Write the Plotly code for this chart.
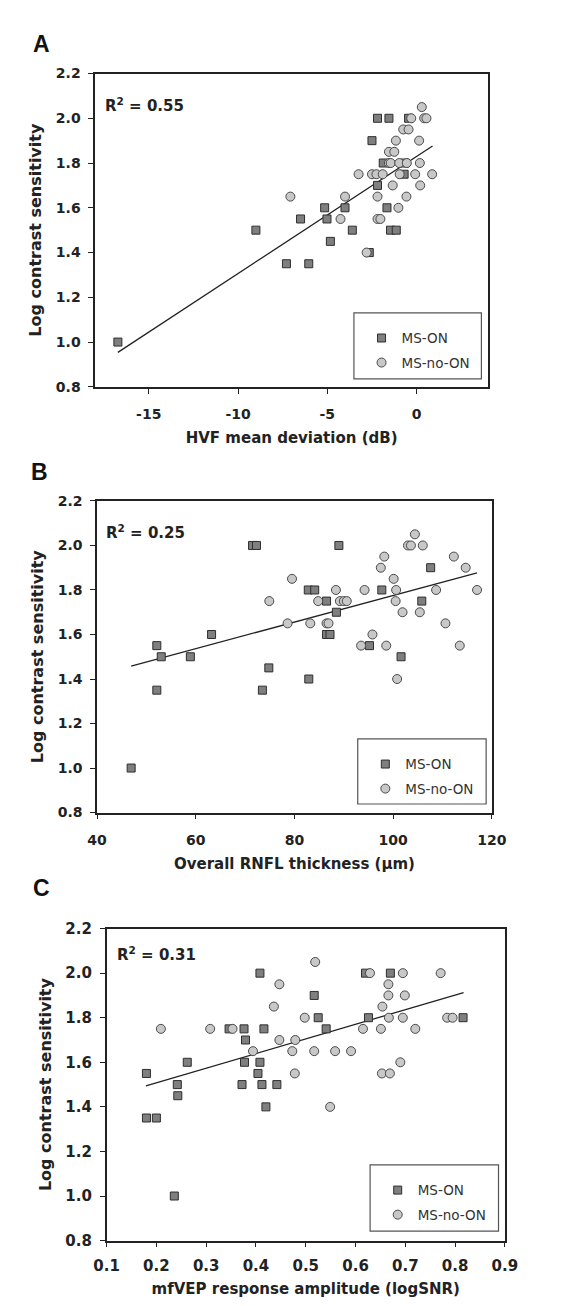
import plotly.graph_objects as go

W, H = 574, 1306

# ---------------- Data ----------------
# Panel A: HVF mean deviation (dB) vs log contrast sensitivity
a_on_x = [-16.73, -9.0, -7.29, -6.5, -6.04, -5.15, -5.02, -4.83, -4.01, -3.6, -2.65,
          -2.5, -2.19, -2.19, -1.87, -1.66, -1.55, -1.46, -1.14, -0.7, -0.65, -0.45]
a_on_y = [1.0, 1.5, 1.35, 1.55, 1.35, 1.6, 1.55, 1.45, 1.6, 1.5, 1.4,
          1.9, 2.0, 1.7, 1.8, 1.6, 2.0, 1.5, 1.5, 1.75, 1.8, 2.0]
a_no_x = [0.29, -0.3, 0.42, 0.55, -0.75, -0.45, -1.16, 0.14, -1.55, -1.25,
          -1.55, -1.45, -0.97, -0.55, 0.18, -3.25, -2.5, -2.25, -1.9, -0.95, -0.08, 0.87,
          -1.34, 0.2, -7.07, -4.01, -2.19, -0.57, -1.02, -4.26, -2.19, -2.03, -2.8]
a_no_y = [2.05, 2.0, 2.0, 2.0, 1.95, 1.95, 1.9, 1.9, 1.85, 1.85,
          1.8, 1.8, 1.8, 1.8, 1.8, 1.75, 1.75, 1.75, 1.75, 1.75, 1.75, 1.75,
          1.7, 1.7, 1.65, 1.65, 1.65, 1.65, 1.6, 1.55, 1.55, 1.55, 1.4]
a_fit_x = [-16.73, 0.89]
a_fit_y = [0.954, 1.876]
a_xtick_vals = [-15, -10, -5, 0]
a_xtick_text = ["-15", "-10", "-5", "0"]

# Panel B: overall RNFL thickness (um) vs log contrast sensitivity
b_on_x = [46.9, 52.1, 52.1, 53.0, 58.9, 63.2, 71.5, 72.3, 73.5, 74.8, 82.8, 84.1, 82.9,
          86.5, 86.5, 87.2, 88.5, 89.0, 95.2, 97.7, 101.6, 105.8, 107.6]
b_on_y = [1.0, 1.55, 1.35, 1.5, 1.5, 1.6, 2.0, 2.0, 1.35, 1.45, 1.8, 1.8, 1.4,
          1.75, 1.6, 1.6, 1.7, 2.0, 1.55, 1.8, 1.5, 1.75, 1.9]
b_no_x = [104.4, 103.0, 103.6, 106.0, 98.2, 112.3, 97.5, 114.7, 79.5, 100.1,
          88.4, 94.2, 100.6, 108.7, 117.0, 74.9, 84.8, 89.2, 90.0, 90.6, 100.5,
          101.9, 105.4, 78.6, 83.2, 86.5, 86.9, 110.6, 95.8, 93.5, 98.6, 113.5, 100.8]
b_no_y = [2.05, 2.0, 2.0, 2.0, 1.95, 1.95, 1.9, 1.9, 1.85, 1.85,
          1.8, 1.8, 1.8, 1.8, 1.8, 1.75, 1.75, 1.75, 1.75, 1.75, 1.75,
          1.7, 1.7, 1.65, 1.65, 1.65, 1.65, 1.65, 1.6, 1.55, 1.55, 1.55, 1.4]
b_fit_x = [46.9, 117.0]
b_fit_y = [1.458, 1.877]
b_xtick_vals = [40, 60, 80, 100, 120]
b_xtick_text = ["40", "60", "80", "100", "120"]

# Panel C: mfVEP response amplitude (logSNR) vs log contrast sensitivity
c_on_x = [0.236, 0.180, 0.200, 0.420, 0.243, 0.242, 0.372, 0.412, 0.442, 0.180, 0.404,
          0.262, 0.377, 0.408, 0.379, 0.346, 0.376, 0.416, 0.541, 0.525, 0.626, 0.816,
          0.517, 0.408, 0.620, 0.670]
c_on_y = [1.0, 1.35, 1.35, 1.4, 1.45, 1.5, 1.5, 1.5, 1.5, 1.55, 1.55,
          1.6, 1.6, 1.6, 1.7, 1.75, 1.75, 1.75, 1.75, 1.8, 1.8, 1.8,
          1.9, 2.0, 2.0, 2.0]
c_no_x = [0.519, 0.629, 0.695, 0.771, 0.447, 0.666, 0.666, 0.699, 0.436, 0.654,
          0.498, 0.667, 0.695, 0.784, 0.795, 0.209, 0.308, 0.353, 0.615, 0.651, 0.720,
          0.447, 0.479, 0.394, 0.473, 0.517, 0.559, 0.591, 0.690, 0.478, 0.653, 0.669, 0.549]
c_no_y = [2.05, 2.0, 2.0, 2.0, 1.95, 1.95, 1.9, 1.9, 1.85, 1.85,
          1.8, 1.8, 1.8, 1.8, 1.8, 1.75, 1.75, 1.75, 1.75, 1.75, 1.75,
          1.7, 1.7, 1.65, 1.65, 1.65, 1.65, 1.65, 1.6, 1.55, 1.55, 1.55, 1.4]
c_fit_x = [0.179, 0.817]
c_fit_y = [1.494, 1.913]
c_xtick_vals = [0.1, 0.2, 0.3, 0.4, 0.5, 0.6, 0.7, 0.8, 0.9]
c_xtick_text = ["0.1", "0.2", "0.3", "0.4", "0.5", "0.6", "0.7", "0.8", "0.9"]

y_tick_vals = [0.8, 1.0, 1.2, 1.4, 1.6, 1.8, 2.0, 2.2]
y_tick_text = ["0.8", "1.0", "1.2", "1.4", "1.6", "1.8", "2.0", "2.2"]

panel_letters = ["A", "B", "C"]
r2_labels = ["0.55", "0.25", "0.31"]
x_titles = ["HVF mean deviation (dB)", "Overall RNFL thickness (\u00b5m)",
            "mfVEP response amplitude (logSNR)"]
y_title = "Log contrast sensitivity"
series_names = ["MS-ON", "MS-no-ON"]

# ---------------- Layout geometry (pixels) ----------------
def px_x(p):
    return p / W

def px_y(p):
    return 1 - p / H

panels = [
    dict(x0=78, x1=491, y0=57.3, y1=375, xr=[-18, 4], tickfont=14, lstand=9, tstand=11,
         legbox=(350, 300, 484, 367), r2=(86, 77), letter=(10, 12)),
    dict(x0=80, x1=495, y0=490.7, y1=806.7, xr=[40, 120], tickfont=14, lstand=9, tstand=11,
         legbox=(354, 732, 489, 798), r2=(87, 510), letter=(8, 446)),
    dict(x0=90, x1=508.7, y0=924.3, y1=1240.7, xr=[0.1, 0.9], tickfont=15, lstand=6, tstand=9,
         legbox=(367, 1164, 502, 1231), r2=(99, 938), letter=(10, 868)),
]
data = [
    (a_on_x, a_on_y, a_no_x, a_no_y, a_fit_x, a_fit_y, a_xtick_vals, a_xtick_text),
    (b_on_x, b_on_y, b_no_x, b_no_y, b_fit_x, b_fit_y, b_xtick_vals, b_xtick_text),
    (c_on_x, c_on_y, c_no_x, c_no_y, c_fit_x, c_fit_y, c_xtick_vals, c_xtick_text),
]

FONT_B = "DejaVu Sans"
fig = go.Figure()
shapes = []
annotations = []
layout = dict(width=W, height=H, margin=dict(l=0, r=0, t=0, b=0),
              paper_bgcolor="white", plot_bgcolor="white", showlegend=True)

for i, (p, d) in enumerate(zip(panels, data)):
    n = "" if i == 0 else str(i + 1)
    xa, ya = "x" + n, "y" + n
    leg = "legend" + n
    on_x, on_y, no_x, no_y, fx, fy, xtv, xtt = d
    fig.add_trace(go.Scatter(x=fx, y=fy, xaxis=xa, yaxis=ya, mode="lines",
                             line=dict(color="#222222", width=1.3), showlegend=False,
                             hoverinfo="skip"))
    fig.add_trace(go.Scatter(x=on_x, y=on_y, xaxis=xa, yaxis=ya, mode="markers",
                             name=series_names[0], legend=leg, legendgroup="on" + n,
                             marker=dict(symbol="square", size=8, color="#7f7f7f",
                                         line=dict(color="#2e2e2e", width=1))))
    fig.add_trace(go.Scatter(x=no_x, y=no_y, xaxis=xa, yaxis=ya, mode="markers",
                             name=series_names[1], legend=leg, legendgroup="no" + n,
                             marker=dict(symbol="circle", size=9, color="#c8c8c8",
                                         line=dict(color="#4a4a4a", width=1))))
    axis_common = dict(showgrid=False, zeroline=False, showline=True, mirror=True,
                       linecolor="#222222", linewidth=1.5, ticks="outside", ticklen=5,
                       tickwidth=1.3, tickcolor="#222222")
    layout["xaxis" + n] = dict(axis_common, domain=[px_x(p["x0"]), px_x(p["x1"])],
                               anchor=ya, range=p["xr"], tickmode="array",
                               tickvals=xtv, ticktext=xtt,
                               ticklabelstandoff=p["lstand"],
                               tickfont=dict(family=FONT_B, size=p["tickfont"], color="#222",
                                             weight="bold"),
                               title=dict(text=x_titles[i], standoff=p["tstand"],
                                          font=dict(family=FONT_B, size=15, color="#222",
                                                    weight="bold")))
    layout["yaxis" + n] = dict(axis_common, domain=[px_y(p["y1"]), px_y(p["y0"])],
                               anchor=xa, range=[0.8, 2.2], tickmode="array",
                               tickvals=y_tick_vals, ticktext=y_tick_text,
                               ticklabelstandoff=5,
                               tickfont=dict(family=FONT_B, size=p["tickfont"], color="#222",
                                             weight="bold"),
                               title=dict(text=y_title, standoff=10,
                                          font=dict(family=FONT_B, size=16, color="#222",
                                                    weight="bold")))
    bx0, by0, bx1, by1 = p["legbox"]
    shapes.append(dict(type="rect", xref="paper", yref="paper",
                       x0=px_x(bx0), x1=px_x(bx1), y0=px_y(by1), y1=px_y(by0),
                       line=dict(color="#555555", width=1.2), fillcolor="rgba(0,0,0,0)"))
    layout[leg] = dict(x=px_x(bx0 + 8), y=px_y(by0 + 10), xanchor="left", yanchor="top",
                       bgcolor="rgba(0,0,0,0)", borderwidth=0, tracegroupgap=4,
                       font=dict(family=FONT_B, size=13.5, color="#333"))
    annotations.append(dict(xref="paper", yref="paper", x=px_x(p["r2"][0]),
                            y=px_y(p["r2"][1]), xanchor="left", yanchor="top",
                            text="R<sup>2</sup> = " + r2_labels[i], showarrow=False,
                            font=dict(family=FONT_B, size=15, color="#222", weight="bold")))
    annotations.append(dict(xref="paper", yref="paper", x=px_x(p["letter"][0]),
                            y=px_y(p["letter"][1]), xanchor="left", yanchor="top",
                            text=panel_letters[i], showarrow=False,
                            font=dict(family="Liberation Sans", size=23, color="#111",
                                      weight="bold")))

layout["shapes"] = shapes
layout["annotations"] = annotations
fig.update_layout(**layout)
fig.write_html("out.html")
